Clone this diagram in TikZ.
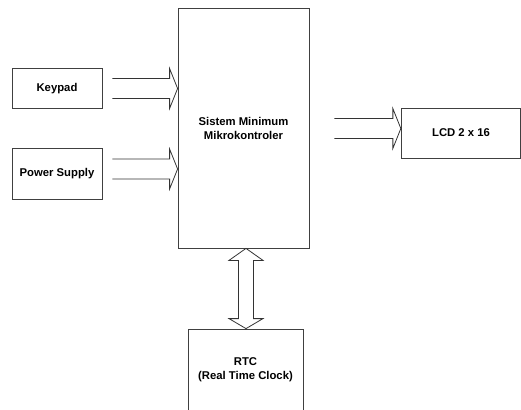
\documentclass[tikz,border=0pt]{standalone}
\usepackage{fontspec}
\setmainfont{Liberation Sans}
\usetikzlibrary{calc}
\begin{document}
\begin{tikzpicture}[x=1pt,y=-1pt,
  box/.style={draw=black!75,line width=0.8pt,rectangle,inner sep=0pt,align=center,
    font=\fontsize{11.3}{14}\selectfont\bfseries},
  conn/.style={draw=black!80,line width=0.8pt,line join=miter}]
\useasboundingbox (0,0) rectangle (521,409);
\node[box,minimum width=90,minimum height=40] (kp) at (57,88.5) {Keypad};
\node[box,minimum width=90,minimum height=51] (ps) at (57,173.5) {Power Supply};
\node[box,minimum width=131,minimum height=240] (main) at (243.5,128) {Sistem Minimum\\Mikrokontroler};
\node[box,minimum width=119.5,minimum height=50] (lcd) at (461,133) {LCD 2 x 16};
\node[box,minimum width=115,minimum height=82] (rtc) at (245.5,370) {RTC\\(Real Time Clock)};
% Keypad -> main
\coordinate (k1) at ($(kp.east)+(10,0)$);
\coordinate (k2) at (main.west |- kp.east);
\draw[conn] ($(k1)+(0,-10)$) -- ($(k2)+(-8,-10)$) -- ($(k2)+(-8,-20)$) -- (k2)
  -- ($(k2)+(-8,20)$) -- ($(k2)+(-8,10)$) -- ($(k1)+(0,10)$);
% Power supply -> main
\coordinate (p1) at ($(ps.east)+(10,-4.5)$);
\coordinate (p2) at (main.west |- p1);
\draw[conn] ($(p1)+(0,-10)$) -- ($(p2)+(-8,-10)$) -- ($(p2)+(-8,-20)$) -- (p2)
  -- ($(p2)+(-8,20)$) -- ($(p2)+(-8,10)$) -- ($(p1)+(0,10)$);
% main -> LCD
\coordinate (l2) at ($(lcd.west)+(0,-4.5)$);
\coordinate (l1) at ($(main.east |- l2)+(25,0)$);
\draw[conn] ($(l1)+(0,-10)$) -- ($(l2)+(-8,-10)$) -- ($(l2)+(-8,-20)$) -- (l2)
  -- ($(l2)+(-8,20)$) -- ($(l2)+(-8,10)$) -- ($(l1)+(0,10)$);
% main <-> RTC
\coordinate (r1) at (main.south -| 246,0);
\coordinate (r2) at (rtc.north -| 246,0);
\draw[conn] (r1) -- ($(r1)+(17,12)$) -- ($(r1)+(7.5,12)$) -- ($(r2)+(7.5,-10)$)
  -- ($(r2)+(17,-10)$) -- (r2) -- ($(r2)+(-17,-10)$) -- ($(r2)+(-7.5,-10)$)
  -- ($(r1)+(-7.5,12)$) -- ($(r1)+(-17,12)$) -- cycle;
\end{tikzpicture}
\end{document}
